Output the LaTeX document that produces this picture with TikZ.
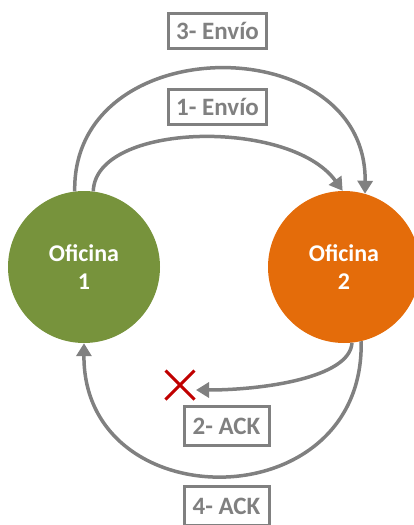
\documentclass[tikz,border=0pt]{standalone}
\usepackage{fontspec}
\setmainfont{Carlito}
\usetikzlibrary{arrows.meta,shapes.misc}
\definecolor{lgray}{RGB}{128,128,128}
\definecolor{ogreen}{RGB}{119,147,60}
\definecolor{oorange}{RGB}{228,108,10}
\definecolor{xred}{RGB}{192,0,0}
\tikzset{
  office/.style={circle, minimum size=152pt, inner sep=0pt, text=white,
    font=\fontsize{24}{28}\selectfont\bfseries, align=center},
  lbl/.style={draw=lgray, line width=3pt, text=lgray, inner sep=0pt,
    font=\fontsize{25}{28}\selectfont\bfseries},
  conn/.style={draw=lgray, line width=3.5pt,
    -{Triangle[length=13pt,width=15pt]}},
}
\begin{document}
\begin{tikzpicture}[x=1pt,y=-1pt]
\useasboundingbox (0,0) rectangle (414,525);
\clip (0,0) rectangle (414,525);
\node[office, fill=ogreen] (o1) at (84,267) {Oficina\\1};
\node[office, fill=oorange] (o2) at (344,267) {Oficina\\2};
\node[lbl, minimum width=98pt, minimum height=35pt] (l3) at (217.5,31) {3- Envío};
\node[lbl, minimum width=98pt, minimum height=35pt] (l1) at (217.5,107) {1- Envío};
\node[lbl, minimum width=85pt, minimum height=39pt] (l2) at (226.5,426) {2- ACK};
\node[lbl, minimum width=85pt, minimum height=39pt] (l4) at (226.5,506) {4- ACK};
\node[cross out, draw=xred, line width=3pt, minimum size=26pt, inner sep=0pt] (x) at (180,385) {};
\coordinate (x2) at (196,390);
\draw[conn] (o1.97) .. controls (72,28) and (367,28) .. (o2.74);
\draw[conn] (o1.83) .. controls (95,122) and (290,118) .. (o2.91);
\draw[conn] (o2.-84) .. controls (350,378) and (262,390) .. (x2);
\draw[conn] (o2.-77) .. controls (365,520) and (83,520) .. (o1.south);
\end{tikzpicture}
\end{document}
